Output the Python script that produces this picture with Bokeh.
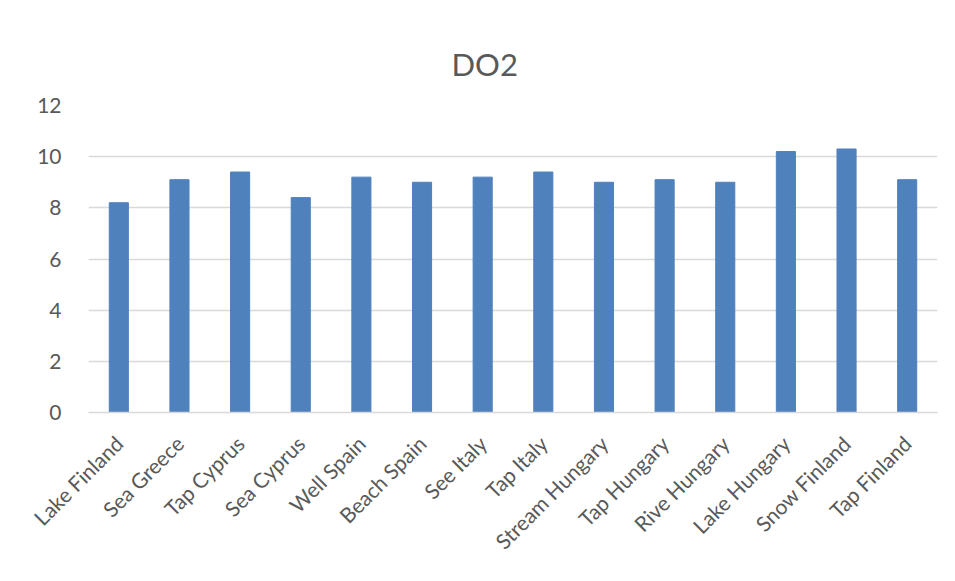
from bokeh.plotting import figure
from bokeh.models import FactorRange, Range1d, FixedTicker, Title, ColumnDataSource
from bokeh.embed import file_html
from bokeh.resources import INLINE
import math

categories = ["Lake Finland", "Sea Greece", "Tap Cyprus", "Sea Cyprus", "Well Spain",
              "Beach Spain", "See Italy", "Tap Italy", "Stream Hungary", "Tap Hungary",
              "Rive Hungary", "Lake Hungary", "Snow Finland", "Tap Finland"]
do2_values = [8.2, 9.1, 9.4, 8.4, 9.2, 9.0, 9.2, 9.4, 9.0, 9.1, 9.0, 10.2, 10.3, 9.1]
y_ticks = [0, 2, 4, 6, 8, 10, 12]
title_text = "DO2"

FONT = "Lato"
TXT = "#595959"
GRID = "#d9d9d9"

source = ColumnDataSource(data=dict(cat=categories, val=do2_values))

p = figure(
    x_range=FactorRange(factors=categories, range_padding=0),
    y_range=Range1d(0, 12),
    width=940, height=565,
    output_backend="svg", toolbar_location=None, tools="",
    min_border_left=88, min_border_right=3, min_border_top=105, min_border_bottom=147,
)

p.vbar(x="cat", top="val", width=0.315, source=source, color="#4f81bd", line_color="#4f81bd")

t = Title(text=title_text, align="left", offset=363, standoff=45,
          text_font=FONT, text_font_size="31px", text_font_style="normal", text_color=TXT,
          text_line_height=1.0)
p.title = t

p.outline_line_color = None
p.xgrid.grid_line_color = None
p.ygrid.grid_line_color = GRID
p.ygrid.grid_line_width = 1.5

p.yaxis.ticker = FixedTicker(ticks=y_ticks)
p.yaxis.axis_line_color = None
p.yaxis.major_tick_line_color = None
p.yaxis.minor_tick_line_color = None
p.yaxis.major_label_text_font = FONT
p.yaxis.major_label_text_font_size = "21px"
p.yaxis.major_label_text_color = TXT
p.yaxis.major_label_standoff = 21

p.xaxis.axis_line_color = GRID
p.xaxis.axis_line_width = 1.5
p.xaxis.major_tick_line_color = None
p.xaxis.minor_tick_line_color = None
p.xaxis.major_label_orientation = math.pi / 4
p.xaxis.major_label_text_font = FONT
p.xaxis.major_label_text_font_size = "21px"
p.xaxis.major_label_text_color = TXT
p.xaxis.major_label_standoff = 21

open("out.html", "w").write(file_html(p, INLINE))
